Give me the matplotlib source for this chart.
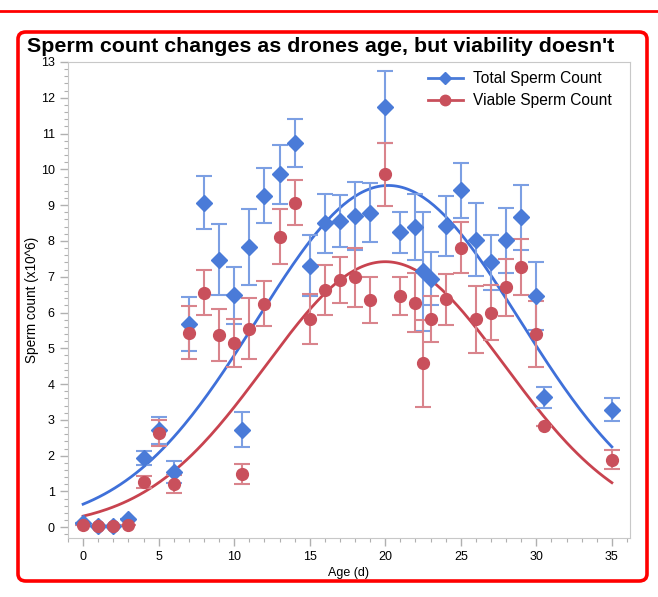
import numpy as np
import matplotlib
matplotlib.use("Agg")
import matplotlib.pyplot as plt
from matplotlib.patches import FancyBboxPatch
from matplotlib.lines import Line2D
from matplotlib.ticker import MultipleLocator

plt.rcParams["font.family"] = ["Liberation Sans", "DejaVu Sans"]

# ages (days)
ages = [0, 1, 2, 3, 4, 5, 6, 7, 8, 9, 10, 10.5, 11, 12, 13, 14, 15, 16, 17, 18,
        19, 20, 21, 22, 22.5, 23, 24, 25, 26, 27, 28, 29, 30, 30.5, 35]

# total sperm count (x10^6) and error
total = [0.12, 0.03, 0.03, 0.22, 1.94, 2.71, 1.55, 5.68, 9.07, 7.48, 6.48, 2.73,
         7.82, 9.26, 9.86, 10.74, 7.31, 8.49, 8.56, 8.70, 8.79, 11.75, 8.24, 8.38,
         7.15, 6.95, 8.42, 9.42, 8.04, 7.40, 8.02, 8.66, 6.47, 3.63, 3.29]
total_err = [0, 0, 0, 0, 0.20, 0.38, 0.30, 0.76, 0.75, 1.00, 0.80, 0.48,
             1.06, 0.77, 0.82, 0.66, 0.85, 0.82, 0.73, 0.94, 0.83, 1.00, 0.58, 0.92,
             1.66, 0.75, 0.84, 0.77, 1.02, 0.78, 0.91, 0.90, 0.95, 0.29, 0.33]

# viable sperm count (x10^6) and error
viable = [0.06, 0.03, 0.03, 0.06, 1.26, 2.64, 1.20, 5.44, 6.55, 5.37, 5.15, 1.49,
          5.55, 6.25, 8.12, 9.07, 5.81, 6.63, 6.90, 6.98, 6.35, 9.87, 6.46, 6.28,
          4.58, 5.81, 6.37, 7.81, 5.81, 6.00, 6.70, 7.28, 5.40, 2.82, 1.89]
viable_err = [0, 0, 0, 0, 0.16, 0.36, 0.25, 0.75, 0.63, 0.73, 0.67, 0.29,
              0.86, 0.63, 0.76, 0.62, 0.70, 0.70, 0.64, 0.82, 0.65, 0.88, 0.54, 0.82,
              1.22, 0.64, 0.72, 0.71, 0.93, 0.76, 0.79, 0.78, 0.93, 0.0, 0.26]

# gaussian fit parameters (height, centre, width)
fit_total = (9.55, 20.2, 8.7)
fit_viable = (7.42, 20.0, 7.94)

blue = "#4a7bd8"
blue_err = "#7c9fe3"
red = "#c9505c"
red_err = "#d9848c"


def gauss(x, p):
    h, c, w = p
    return h * np.exp(-(x - c) ** 2 / (2 * w ** 2))


fig = plt.figure(figsize=(6.58, 5.97), dpi=100)

# red frames
fig.add_artist(Line2D([0, 1], [1 - 11 / 597] * 2, color="red", lw=2,
                      transform=fig.transFigure))
fig.add_artist(FancyBboxPatch((18 / 658, 16 / 597), 629 / 658, 549 / 597,
                              boxstyle="round,pad=0,rounding_size=0.012",
                              transform=fig.transFigure, fill=False,
                              edgecolor="red", lw=2.6))

ax = fig.add_axes([68 / 658, 1 - 538 / 597, 562 / 658, 476 / 597])

xs = np.linspace(0, 35, 200)
ax.plot(xs, gauss(xs, fit_total), color="#3f70d9", lw=2, zorder=2)
ax.plot(xs, gauss(xs, fit_viable), color="#c8434f", lw=2, zorder=2)

ax.errorbar(ages, total, yerr=total_err, fmt="none", ecolor=blue_err,
            elinewidth=1.5, capsize=6, capthick=1.5, zorder=3)
ax.errorbar(ages, viable, yerr=viable_err, fmt="none", ecolor=red_err,
            elinewidth=1.5, capsize=6, capthick=1.5, zorder=3)
ax.plot(ages, total, "D", color=blue, ms=7.8, mec=blue, zorder=4)
ax.plot(ages, viable, "o", color=red, ms=8.5, mec=red, zorder=5)

ax.set_xlim(-1, 36.2)
ax.set_ylim(-0.3, 13)
ax.xaxis.set_major_locator(MultipleLocator(5))
ax.xaxis.set_minor_locator(MultipleLocator(1))
ax.yaxis.set_major_locator(MultipleLocator(1))
ax.yaxis.set_minor_locator(MultipleLocator(0.2))
ax.tick_params(which="both", color="#b0b0b0", labelsize=9, labelcolor="black")
ax.tick_params(which="major", length=6, width=1)
ax.tick_params(which="minor", length=3, width=0.8)
for s in ax.spines.values():
    s.set_color("#c8c8c8")

ax.set_xlabel("Age (d)", fontsize=9, labelpad=3)
ax.set_ylabel("Sperm count (x10^6)", fontsize=9.8, labelpad=1)

handles = [
    Line2D([], [], color=blue, marker="D", ms=6.5, lw=2),
    Line2D([], [], color=red, marker="o", ms=7.5, lw=2),
]
ax.legend(handles, ["Total Sperm Count", "Viable Sperm Count"], loc="upper right",
          frameon=False, fontsize=11.2, handlelength=2.2, handletextpad=0.7,
          labelspacing=0.45, borderaxespad=0.2, bbox_to_anchor=(0.985, 1.0))

fig.text(27 / 658, 1 - 47 / 597, "Sperm count changes as drones age, but viability doesn't",
         fontsize=15.4, fontweight="bold", va="center", ha="left")

fig.savefig("out.png", dpi=100)
